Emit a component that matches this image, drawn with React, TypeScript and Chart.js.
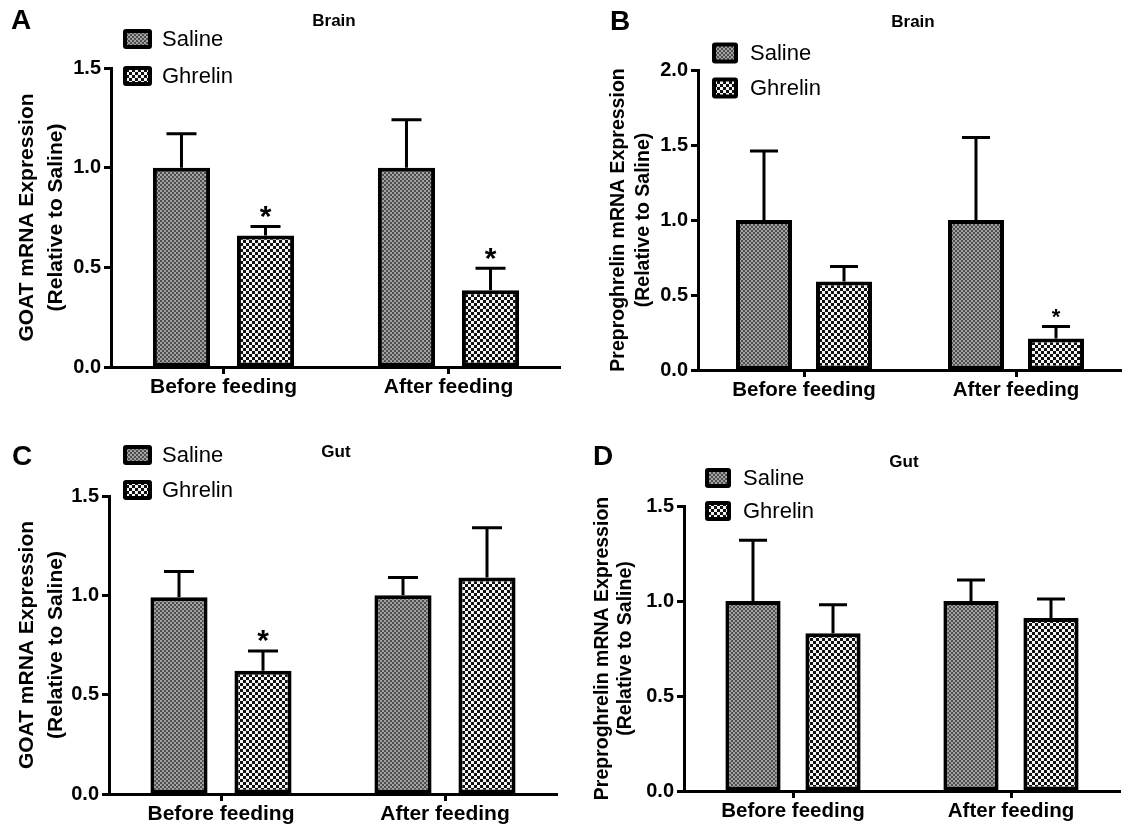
import React, { useEffect, useRef } from "react";
import { Chart, registerables } from "chart.js";

Chart.register(...registerables);

// ---------- data ----------
const categories = ["Before feeding", "After feeding"];
const seriesNames = ["Saline", "Ghrelin"];

const goatTicks = [0, 0.5, 1.0, 1.5];
const preBrainTicks = [0, 0.5, 1.0, 1.5, 2.0];
const preGutTicks = [0, 0.5, 1.0, 1.5];

// A: Brain GOAT
const brainGoatSaline = [1.0, 1.0];
const brainGoatSalineSem = [0.17, 0.24];
const brainGoatGhrelin = [0.66, 0.385];
const brainGoatGhrelinSem = [0.045, 0.11];
const brainGoatStars = [true, true];

// B: Brain preproghrelin
const brainPreSaline = [1.0, 1.0];
const brainPreSalineSem = [0.46, 0.55];
const brainPreGhrelin = [0.59, 0.21];
const brainPreGhrelinSem = [0.1, 0.08];
const brainPreStars = [false, true];

// C: Gut GOAT
const gutGoatSaline = [0.99, 1.0];
const gutGoatSalineSem = [0.13, 0.09];
const gutGoatGhrelin = [0.62, 1.09];
const gutGoatGhrelinSem = [0.1, 0.25];
const gutGoatStars = [true, false];

// D: Gut preproghrelin
const gutPreSaline = [1.0, 1.0];
const gutPreSalineSem = [0.32, 0.11];
const gutPreGhrelin = [0.83, 0.91];
const gutPreGhrelinSem = [0.15, 0.1];
const gutPreStars = [false, false];

const FONT = "'Liberation Sans', Arial, Helvetica, sans-serif";

type PanelCfg = {
  key: string;
  left: number;
  top: number;
  width: number;
  height: number;
  area: { left: number; top: number; bottom: number; right: number };
  letter: string;
  letterPos: [number, number];
  title: string;
  titlePos: [number, number];
  titleSize: number;
  yTitle: string[];
  yTitleSize: number;
  yTitleLine: number;
  yTitleFirst: number;
  ticks: number[];
  tickSize: number;
  xLabelSize: number;
  saline: number[];
  salineSem: number[];
  ghrelin: number[];
  ghrelinSem: number[];
  stars: boolean[];
  catPct: number;
  barPct: number;
  capW: number;
  legendX: number;
  legendY: number[];
  boxW: number;
  boxH: number;
  legendText: number;
  legendGap: number;
  starSize: number;
  starGap: number;
};

const panels: PanelCfg[] = [
  {
    key: "A", left: 0, top: 0, width: 561, height: 410,
    area: { left: 111, top: 68, bottom: 367, right: 561 },
    letter: "A", letterPos: [11, 21], title: "Brain", titlePos: [334, 21], titleSize: 17,
    yTitle: ["GOAT mRNA Expression", "(Relative to Saline)"], yTitleSize: 21, yTitleLine: 29, yTitleFirst: 27,
    ticks: goatTicks, tickSize: 20, xLabelSize: 21,
    saline: brainGoatSaline, salineSem: brainGoatSalineSem, ghrelin: brainGoatGhrelin, ghrelinSem: brainGoatGhrelinSem,
    stars: brainGoatStars, catPct: 0.747, barPct: 0.68, capW: 30,
    legendX: 123, legendY: [39, 76], boxW: 29, boxH: 20, legendText: 22, legendGap: 10,
    starSize: 30, starGap: 18,
  },
  {
    key: "B", left: 561, top: 0, width: 561, height: 410,
    area: { left: 137, top: 70, bottom: 370, right: 561 },
    letter: "B", letterPos: [49, 22], title: "Brain", titlePos: [352, 22], titleSize: 17,
    yTitle: ["Preproghrelin mRNA Expression", "(Relative to Saline)"], yTitleSize: 19.5, yTitleLine: 25, yTitleFirst: 58,
    ticks: preBrainTicks, tickSize: 20, xLabelSize: 20.5,
    saline: brainPreSaline, salineSem: brainPreSalineSem, ghrelin: brainPreGhrelin, ghrelinSem: brainPreGhrelinSem,
    stars: brainPreStars, catPct: 0.755, barPct: 0.7, capW: 28,
    legendX: 151, legendY: [53, 88], boxW: 26, boxH: 21, legendText: 22, legendGap: 12,
    starSize: 22, starGap: 15,
  },
  {
    key: "C", left: 0, top: 410, width: 561, height: 417,
    area: { left: 109, top: 86, bottom: 384, right: 557 },
    letter: "C", letterPos: [12, 47], title: "Gut", titlePos: [336, 42], titleSize: 17,
    yTitle: ["GOAT mRNA Expression", "(Relative to Saline)"], yTitleSize: 21, yTitleLine: 29, yTitleFirst: 27,
    ticks: goatTicks, tickSize: 20, xLabelSize: 21,
    saline: gutGoatSaline, salineSem: gutGoatSalineSem, ghrelin: gutGoatGhrelin, ghrelinSem: gutGoatGhrelinSem,
    stars: gutGoatStars, catPct: 0.75, barPct: 0.68, capW: 30,
    legendX: 123, legendY: [45, 80], boxW: 29, boxH: 20, legendText: 22, legendGap: 10,
    starSize: 30, starGap: 18,
  },
  {
    key: "D", left: 561, top: 410, width: 561, height: 417,
    area: { left: 123, top: 96, bottom: 381, right: 559 },
    letter: "D", letterPos: [32, 47], title: "Gut", titlePos: [343, 52], titleSize: 17,
    yTitle: ["Preproghrelin mRNA Expression", "(Relative to Saline)"], yTitleSize: 19.5, yTitleLine: 23, yTitleFirst: 42,
    ticks: preGutTicks, tickSize: 20, xLabelSize: 20.5,
    saline: gutPreSaline, salineSem: gutPreSalineSem, ghrelin: gutPreGhrelin, ghrelinSem: gutPreGhrelinSem,
    stars: gutPreStars, catPct: 0.734, barPct: 0.69, capW: 28,
    legendX: 144, legendY: [68, 101], boxW: 26, boxH: 20, legendText: 22, legendGap: 12,
    starSize: 30, starGap: 18,
  },
];

function makePattern(kind: "saline" | "ghrelin"): CanvasPattern | string {
  const c = document.createElement("canvas");
  const g = c.getContext("2d");
  if (!g) return kind === "saline" ? "#777" : "#888";
  if (kind === "saline") {
    c.width = 4; c.height = 4;
    g.fillStyle = "#a2a2a2";
    g.fillRect(0, 0, 4, 4);
    g.fillStyle = "#4e4e4e";
    g.fillRect(0, 0, 2, 2);
    g.fillRect(2, 2, 2, 2);
  } else {
    c.width = 6; c.height = 6;
    g.fillStyle = "#111";
    g.fillRect(0, 0, 6, 6);
    g.fillStyle = "#f4f4f4";
    g.fillRect(0, 0, 3, 3);
    g.fillRect(3, 3, 3, 3);
  }
  return g.createPattern(c, "repeat") || "#777";
}

const decorPlugin = {
  id: "decor",
  afterDatasetsDraw(chart: any, _args: any, opts: any) {
    const ctx: CanvasRenderingContext2D = chart.ctx;
    const yScale = chart.scales.y;
    ctx.save();
    ctx.strokeStyle = "#000";
    ctx.lineWidth = 3;
    chart.data.datasets.forEach((ds: any, i: number) => {
      const meta = chart.getDatasetMeta(i);
      meta.data.forEach((el: any, j: number) => {
        const v = ds.data[j];
        const e = ds.sem[j];
        const yTop = yScale.getPixelForValue(v);
        const yErr = yScale.getPixelForValue(v + e);
        ctx.beginPath();
        ctx.moveTo(el.x, yTop);
        ctx.lineTo(el.x, yErr);
        ctx.moveTo(el.x - opts.capW / 2, yErr);
        ctx.lineTo(el.x + opts.capW / 2, yErr);
        ctx.stroke();
        if (ds.stars && ds.stars[j]) {
          ctx.fillStyle = "#000";
          ctx.font = `bold ${opts.starSize}px ${FONT}`;
          ctx.textAlign = "center";
          ctx.textBaseline = "alphabetic";
          const cy = yErr - opts.starGap;
          ctx.fillText("*", el.x, cy + opts.starSize * 0.575);
        }
      });
    });
    ctx.restore();
  },
  afterDraw(chart: any, _args: any, opts: any) {
    const ctx: CanvasRenderingContext2D = chart.ctx;
    ctx.save();
    ctx.fillStyle = "#000";
    // panel letter
    ctx.font = `bold 28px ${FONT}`;
    ctx.textAlign = "left";
    ctx.textBaseline = "middle";
    ctx.fillText(opts.letter, opts.letterPos[0], opts.letterPos[1]);
    // title
    ctx.font = `bold ${opts.titleSize}px ${FONT}`;
    ctx.textAlign = "center";
    ctx.fillText(opts.title, opts.titlePos[0], opts.titlePos[1]);
    // legend
    chart.data.datasets.forEach((ds: any, i: number) => {
      const cy = opts.legendY[i];
      const x = opts.legendX;
      const y = cy - opts.boxH / 2;
      ctx.fillStyle = "#000";
      ctx.beginPath();
      ctx.roundRect(x, y, opts.boxW, opts.boxH, 3);
      ctx.fill();
      ctx.fillStyle = ds.backgroundColor;
      ctx.fillRect(x + 4, y + 4, opts.boxW - 8, opts.boxH - 8);
      ctx.fillStyle = "#000";
      ctx.font = `${opts.legendText}px ${FONT}`;
      ctx.textAlign = "left";
      ctx.textBaseline = "middle";
      ctx.fillText(ds.label, x + opts.boxW + opts.legendGap, cy + 1);
    });
    ctx.restore();
  },
};

function Panel({ cfg }: { cfg: PanelCfg }) {
  const ref = useRef<HTMLCanvasElement | null>(null);
  useEffect(() => {
    const canvas = ref.current;
    if (!canvas) return;
    const salinePattern = makePattern("saline");
    const ghrelinPattern = makePattern("ghrelin");
    const a = cfg.area;
    const yMax = cfg.ticks[cfg.ticks.length - 1];
    const chart = new Chart(canvas, {
      type: "bar",
      data: {
        labels: categories,
        datasets: [
          {
            label: seriesNames[0],
            data: cfg.saline,
            sem: cfg.salineSem,
            stars: [false, false],
            backgroundColor: salinePattern,
            borderColor: "#000",
            borderWidth: 4,
            borderSkipped: false,
            categoryPercentage: cfg.catPct,
            barPercentage: cfg.barPct,
          } as any,
          {
            label: seriesNames[1],
            data: cfg.ghrelin,
            sem: cfg.ghrelinSem,
            stars: cfg.stars,
            backgroundColor: ghrelinPattern,
            borderColor: "#000",
            borderWidth: 4,
            borderSkipped: false,
            categoryPercentage: cfg.catPct,
            barPercentage: cfg.barPct,
          } as any,
        ],
      },
      options: {
        animation: false,
        responsive: false,
        devicePixelRatio: 1,
        layout: {
          padding: { left: 0, top: a.top, right: cfg.width - a.right, bottom: 0 },
        },
        plugins: {
          legend: { display: false },
          tooltip: { enabled: false },
          title: { display: false },
          decor: {
            capW: cfg.capW,
            starSize: cfg.starSize,
            starGap: cfg.starGap,
            letter: cfg.letter,
            letterPos: cfg.letterPos,
            title: cfg.title,
            titlePos: cfg.titlePos,
            titleSize: cfg.titleSize,
            legendX: cfg.legendX,
            legendY: cfg.legendY,
            boxW: cfg.boxW,
            boxH: cfg.boxH,
            legendText: cfg.legendText,
            legendGap: cfg.legendGap,
          },
        } as any,
        scales: {
          x: {
            type: "category",
            offset: true,
            grid: {
              display: true,
              drawOnChartArea: false,
              drawTicks: true,
              tickLength: 7,
              tickWidth: 3,
              tickColor: "#000",
              offset: false,
            },
            border: { display: true, color: "#000", width: 3 },
            ticks: {
              color: "#000",
              padding: 1,
              maxRotation: 0,
              autoSkip: false,
              font: { family: FONT, size: cfg.xLabelSize, weight: "bold" },
            },
            afterFit: (scale: any) => {
              scale.height = cfg.height - a.bottom;
            },
          },
          y: {
            type: "linear",
            min: 0,
            max: yMax,
            grid: {
              display: true,
              drawOnChartArea: false,
              drawTicks: true,
              tickLength: 7,
              tickWidth: 3,
              tickColor: "#000",
            },
            border: { display: true, color: "#000", width: 3 },
            afterBuildTicks: (scale: any) => {
              scale.ticks = cfg.ticks.map((v) => ({ value: v }));
            },
            ticks: {
              color: "#000",
              padding: 3,
              font: { family: FONT, size: cfg.tickSize, weight: "bold" },
              callback: (v: any) => Number(v).toFixed(1),
            },
            title: {
              display: true,
              text: cfg.yTitle,
              color: "#000",
              font: { family: FONT, size: cfg.yTitleSize, weight: "bold", lineHeight: `${cfg.yTitleLine}px` },
              padding: { top: cfg.yTitleFirst - cfg.yTitleLine / 2, bottom: 0 },
            },
            afterFit: (scale: any) => {
              scale.width = a.left;
            },
          },
        },
      } as any,
      plugins: [decorPlugin as any],
    });
    return () => chart.destroy();
  }, [cfg]);
  return (
    <canvas
      ref={ref}
      width={cfg.width}
      height={cfg.height}
      style={{ position: "absolute", left: cfg.left, top: cfg.top, width: cfg.width, height: cfg.height }}
    />
  );
}

export default function App() {
  useEffect(() => {
    document.body.style.margin = "0";
  }, []);
  return (
    <div style={{ position: "relative", width: 1122, height: 827, background: "#fff", overflow: "hidden" }}>
      {panels.map((p) => (
        <Panel key={p.key} cfg={p} />
      ))}
    </div>
  );
}
